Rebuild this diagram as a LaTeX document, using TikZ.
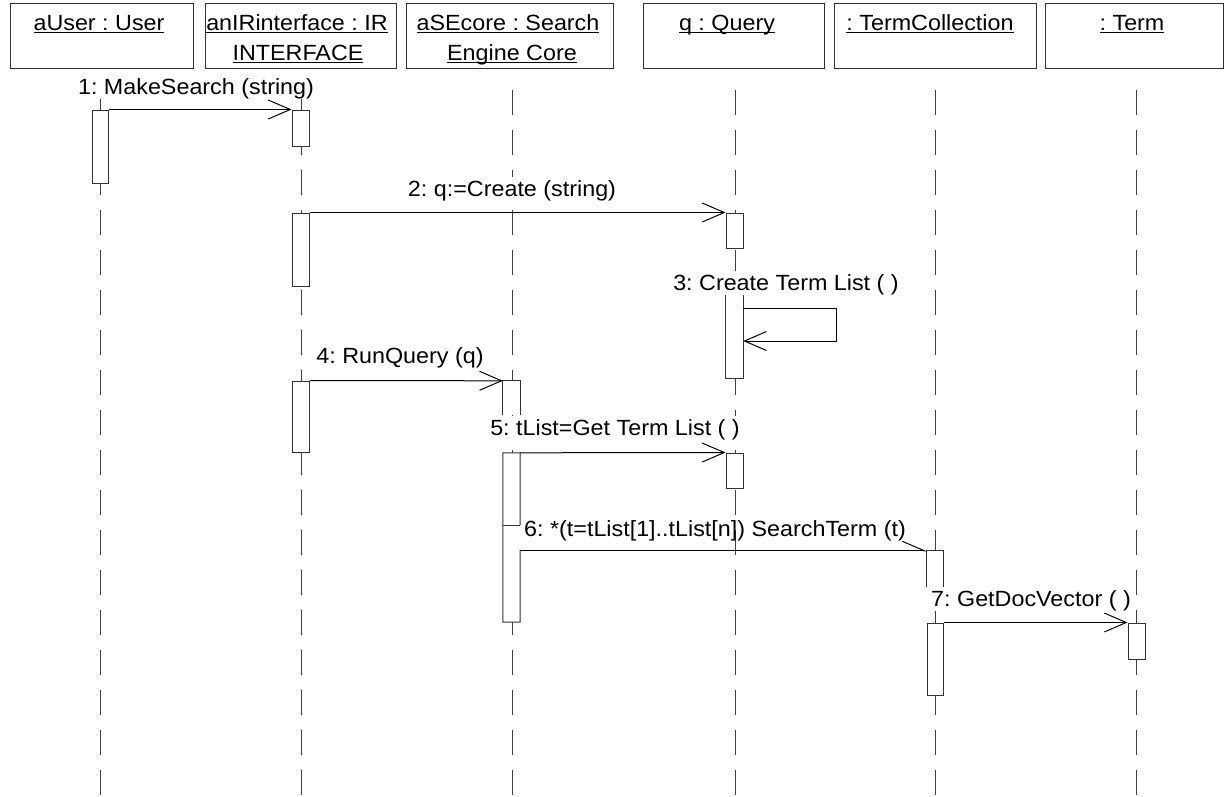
\documentclass[tikz,border=0pt]{standalone}
\usepackage{fontspec}
\setmainfont{Liberation Sans}[FakeStretch=1.06]
\usetikzlibrary{arrows.meta,fit}
\newcommand\ulx[1]{\underline{\smash{#1}}}
\frenchspacing
\begin{document}
\begin{tikzpicture}[x=1pt,y=-1pt,
  hbox/.style={draw=black!80,line width=1pt,inner sep=0pt},
  actbox/.style={draw=black!80,line width=1pt,fill=white,inner sep=0pt},
  actfill/.style={draw=none,fill=white,inner sep=0pt},
  boxline/.style={draw=black!80,line width=1pt},
  lifeline/.style={draw=black!75,line width=1pt,dash pattern=on 25pt off 15pt},
  msg/.style={draw=black,line width=1pt,-{Straight Barb[length=22pt,width=19pt]}},
  halfmsg/.style={draw=black,line width=1pt,-{Straight Barb[length=22pt,width=19pt,left]}},
  htxt/.style={font=\fontsize{22}{26}\selectfont\frenchspacing,inner sep=0pt,anchor=base},
  lbl/.style={font=\fontsize{22}{26}\selectfont\frenchspacing,inner xsep=1pt,inner ysep=0pt,text height=19pt,text depth=5pt,anchor=base,fill=white},
]
\useasboundingbox (0,0) rectangle (1225,796);

% header boxes
\node[hbox,fit={(10,3)(193,68)}] (hA) {};
\node[hbox,fit={(205,3)(396,68)}] (hB) {};
\node[hbox,fit={(406,3)(613,68)}] (hC) {};
\node[hbox,fit={(643,3)(824,68)}] (hD) {};
\node[hbox,fit={(834,3)(1036,68)}] (hE) {};
\node[hbox,fit={(1045,3)(1223,68)}] (hF) {};

\node[htxt] (tA) at (99,30.5) {\ulx{aUser : User}};
\node[htxt] (tB1) at (297,30.5) {\ulx{anIRinterface : IR}};
\node[htxt] (tB2) at (298,60.5) {\ulx{INTERFACE}};
\node[htxt] (tC1) at (508,30.5) {\ulx{aSEcore : Search}};
\node[htxt] (tC2) at (512,60.5) {\ulx{Engine Core}};
\node[htxt] (tD) at (727,30.5) {\ulx{q : Query}};
\node[htxt] (tE) at (930,30.5) {\ulx{: TermCollection}};
\node[htxt] (tF) at (1132,30.5) {\ulx{: Term}};

% lifelines
\coordinate (lA0) at (100,90);  \coordinate (lA1) at (100,796);
\coordinate (lB0) at (301,90);  \coordinate (lB1) at (301,796);
\coordinate (lC0) at (512,90);  \coordinate (lC1) at (512,796);
\coordinate (lD0) at (735,90);  \coordinate (lD1) at (735,796);
\coordinate (lE0) at (935,90);  \coordinate (lE1) at (935,796);
\coordinate (lF0) at (1136,90); \coordinate (lF1) at (1136,796);
\foreach \l in {A,B,C,D,E,F} {\draw[lifeline] (l\l0) -- (l\l1);}

% activation boxes
\node[actbox,fit={(92,110)(108,183)}] (uA1) {};
\node[actbox,fit={(292,110)(309,146)}] (iB1) {};
\node[actbox,fit={(292,213)(309,286)}] (iB2) {};
\node[actbox,fit={(292,381)(309,452)}] (iB3) {};
\node[actfill,fit={(503,381)(520,415)}] (sC1) {};
\draw[boxline] (sC1.south west) -- (sC1.north west) -- (sC1.north east) -- (sC1.south east);
\node[actfill,fit={(503,453)(520,622)}] (sC2) {};
\coordinate (tk) at (503,525);
\coordinate (gp) at (520,550);
\draw[boxline] (sC2.north east |- tk) -- (sC2.north east) -- (sC2.north west) -- (sC2.south west) -- (sC2.south east) -- (gp);
\draw[boxline] (tk) -- (sC2.east |- tk);
\node[actbox,fit={(726,213)(743,248)}] (qD1) {};
\node[actfill,fit={(726,295)(743,378)}] (qD2) {};
\draw[boxline] (qD2.north west) -- (qD2.south west) -- (qD2.south east) -- (qD2.north east);
\node[actbox,fit={(726,453)(743,488)}] (qD3) {};
\node[actfill,fit={(927,551)(943,587)}] (tE1) {};
\draw[boxline] (tE1.south west) -- (tE1.north west) -- (tE1.north east) -- (tE1.south east);
\node[actbox,fit={(927,623)(943,695)}] (tE2) {};
\node[actbox,fit={(1128,623)(1145,659)}] (tF1) {};

% messages
\draw[msg] (uA1.north east) -- (iB1.north west);
\draw[msg] (iB2.north east) -- (qD1.north west);
\coordinate (sc1) at (836,308);
\coordinate (sc2) at (836,341);
\draw[msg] (qD2.east |- sc1) -- (sc1) -- (sc2) -- (qD2.east |- sc2);
\draw[msg] (iB3.north east) -- (sC1.north west);
\draw[msg] (sC2.north east) -- (qD3.north west);
\draw[halfmsg] (sC2.east |- tE1.north) -- (tE1.north west);
\draw[msg] (tE2.north east) -- (tF1.north west);

% labels
\node[lbl] (m1) at (196,94) {1: MakeSearch (string)};
\node[lbl] (m2) at (512,196) {2: q:=Create (string)};
\node[lbl] (m3) at (786,290) {3: Create Term List ( )};
\node[lbl] (m4) at (400,363) {4: RunQuery (q)};
\node[lbl] (m5) at (615,435) {5: tList=Get Term List ( )};
\node[lbl,fill=none] (m6) at (715,536) {6: *(t=tList[1]..tList[n]) SearchTerm (t)};
\node[lbl] (m7) at (1031,606) {7: GetDocVector ( )};
\end{tikzpicture}
\end{document}
